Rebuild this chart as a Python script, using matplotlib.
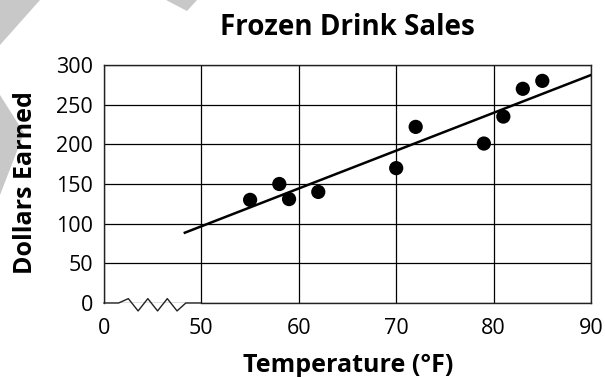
import matplotlib
matplotlib.use('Agg')
import matplotlib.pyplot as plt
from matplotlib.patches import Polygon

# ---- data ----
temps = [55, 58, 59, 62, 70, 72, 79, 81, 83, 85]
dollars = [130, 150, 131, 140, 170, 222, 201, 235, 270, 280]
x_ticks = [40, 50, 60, 70, 80, 90]
x_tick_labels = ['0', '50', '60', '70', '80', '90']
y_ticks = [0, 50, 100, 150, 200, 250, 300]
fit_x = [48.3, 90]
fit_y = [88.6, 287.4]
break_x = [40, 41.5, 42.5, 43.5, 44.5, 45.5, 46.5, 47.5, 48.4, 50]
break_y = [0, 0, 5.5, -10, 5.5, -10, 5.5, -10, 0, 0]

plt.rcParams['font.family'] = ['Open Sans', 'DejaVu Sans']

W, H = 605, 377
fig = plt.figure(figsize=(W / 100, H / 100), dpi=100)

# light grey watermark shapes
for pts in ([(0, 0), (40, 0), (0, 45)],
            [(166, 0), (197, 0), (187, 11)],
            [(0, 95), (24, 133), (0, 195)]):
    fig.patches.append(Polygon([(x / W, 1 - y / H) for x, y in pts], closed=True,
                               transform=fig.transFigure, facecolor='#c8c8c8',
                               edgecolor='none', zorder=0))

ax = fig.add_axes([104 / W, 1 - 303 / H, (591 - 104) / W, (303 - 65) / H])
ax.set_xlim(40, 90)
ax.set_ylim(0, 300)
ax.set_xticks(x_ticks)
ax.set_xticklabels(x_tick_labels)
ax.set_yticks(y_ticks)
ax.tick_params(length=0, labelsize=15.5, colors='black')
ax.tick_params(axis='x', pad=11)
ax.tick_params(axis='y', pad=8)
ax.grid(True, color='black', linewidth=0.9)
ax.set_axisbelow(True)
for s in ax.spines.values():
    s.set_color('#222222')
    s.set_linewidth(1.0)
ax.spines['bottom'].set_bounds(50, 90)

ax.plot(break_x, break_y, color='#222222', linewidth=1.0, clip_on=False, zorder=3)
ax.plot(fit_x, fit_y, color='black', linewidth=1.8, zorder=4)
ax.scatter(temps, dollars, s=105, color='black', zorder=5, edgecolors='none')

fig.text(347 / W, 1 - 35 / H, 'Frozen Drink Sales', ha='center', va='baseline',
         fontsize=20, fontweight='bold')
fig.text(348 / W, 1 - 372 / H, 'Temperature (°F)', ha='center', va='baseline',
         fontsize=18, fontweight='bold')
fig.text(26 / W, 1 - 183 / H, 'Dollars Earned', ha='center', va='center',
         rotation=90, fontsize=18, fontweight='bold')

fig.savefig('out.png', dpi=100)
